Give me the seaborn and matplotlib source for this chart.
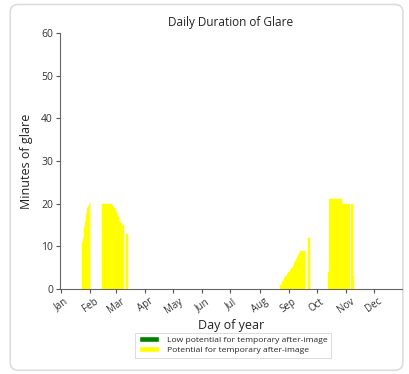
import numpy as np
import pandas as pd
import matplotlib
matplotlib.use("Agg")
import matplotlib.pyplot as plt
from matplotlib.patches import FancyBboxPatch, Patch
import seaborn as sns

# Month tick positions (day of year at the start of each month) and labels
month_starts = [1, 32, 60, 91, 121, 152, 182, 213, 244, 274, 305, 335]
month_labels = ["Jan", "Feb", "Mar", "Apr", "May", "Jun",
                "Jul", "Aug", "Sep", "Oct", "Nov", "Dec"]

# Glare episodes: first day of each run and the minutes of glare per day
late_jan_start = 24
late_jan_minutes = [11, 12, 14.5, 16, 17.5, 19, 19.5, 20, 20.5]

feb_start = 45
feb_minutes = [20, 20, 20, 20, 20, 20, 20, 20, 20, 20, 20,
               19.5, 19, 19, 18.5, 18, 17.5, 17, 16.5, 16, 15.5, 15.5, 15, 15]

early_mar_start = 71
early_mar_minutes = [13, 13]

sep_start = 235
sep_minutes = [1, 1, 1.5, 2, 2, 2.5, 3, 3, 3.5, 4, 4, 4.5, 5, 5, 5.5,
               6, 6.5, 7, 7, 7.5, 8, 8.5, 9, 9, 9, 9, 9]

late_sep_start = 265
late_sep_minutes = [12, 12]

oct_start = 287
oct_minutes = [4, 21, 21, 21, 21, 21, 21, 21, 21, 21, 21, 21, 21, 21,
               20, 20, 20, 20, 20, 20, 20, 20, 20]

early_nov_start = 311
early_nov_minutes = [20, 20, 3]

# Build the daily table
days = np.arange(1, 366)
potential = np.zeros(len(days))
for start, vals in [(late_jan_start, late_jan_minutes), (feb_start, feb_minutes),
                    (early_mar_start, early_mar_minutes), (sep_start, sep_minutes),
                    (late_sep_start, late_sep_minutes), (oct_start, oct_minutes),
                    (early_nov_start, early_nov_minutes)]:
    potential[start - 1:start - 1 + len(vals)] = vals
low_potential = np.zeros(len(days))

df = pd.DataFrame({"day": days, "low": low_potential, "potential": potential})
glare_days = df[df["potential"] > 0]

sns.set_style("white")
plt.rcParams["font.family"] = ["Open Sans", "DejaVu Sans"]

fig = plt.figure(figsize=(4.09, 3.74), dpi=100)
ax = fig.add_axes([0.1467, 0.227, 0.836, 0.685])

GREEN = "#008000"
YELLOW = "#FFFF00"

sns.barplot(data=df, x="day", y="low", native_scale=True, color=GREEN,
            width=1.0, linewidth=0, saturation=1, ax=ax, errorbar=None)
sns.barplot(data=glare_days, x="day", y="potential", native_scale=True, color=YELLOW,
            width=1.0, linewidth=0.3, edgecolor=YELLOW, saturation=1, ax=ax,
            errorbar=None, bottom=glare_days["low"])

ax.set_xlim(0, 365)
ax.set_ylim(0, 60)
ax.set_yticks([0, 10, 20, 30, 40, 50, 60])
ax.set_xticks(month_starts)
ax.set_xticklabels(month_labels, rotation=35, fontsize=7, color="#333333")
ax.tick_params(axis="y", labelsize=7.5, colors="#333333")
ax.tick_params(axis="both", length=3, width=0.8, color="#555555", left=True, bottom=True, pad=2)
for lbl in ax.get_yticklabels():
    lbl.set_color("#333333")

sns.despine(ax=ax)
for side in ["left", "bottom"]:
    ax.spines[side].set_color("#666666")
    ax.spines[side].set_linewidth(0.8)

ax.set_title("Daily Duration of Glare", fontsize=8.5, color="#222222", pad=5)
ax.set_xlabel("Day of year", fontsize=9, color="#222222", labelpad=2)
ax.set_ylabel("Minutes of glare", fontsize=9, color="#222222", labelpad=6)

handles = [Patch(facecolor=GREEN, label="Low potential for temporary after-image"),
           Patch(facecolor=YELLOW, label="Potential for temporary after-image")]
leg = fig.legend(handles=handles, loc="upper center", bbox_to_anchor=(0.57, 0.122),
                 fontsize=6.1, frameon=True, fancybox=False, edgecolor="#cccccc",
                 handlelength=2.4, handleheight=0.7, borderpad=0.4, labelspacing=0.3,
                 handletextpad=0.9)
leg.get_frame().set_linewidth(0.6)

# Rounded card border around the figure
card = FancyBboxPatch((0.025, 0.01), 0.96, 0.978,
                      boxstyle="round,pad=0,rounding_size=0.02",
                      transform=fig.transFigure, facecolor="none",
                      edgecolor="#dddddd", linewidth=1.2, zorder=-1)
fig.patches.append(card)

fig.savefig("out.png", dpi=100)
